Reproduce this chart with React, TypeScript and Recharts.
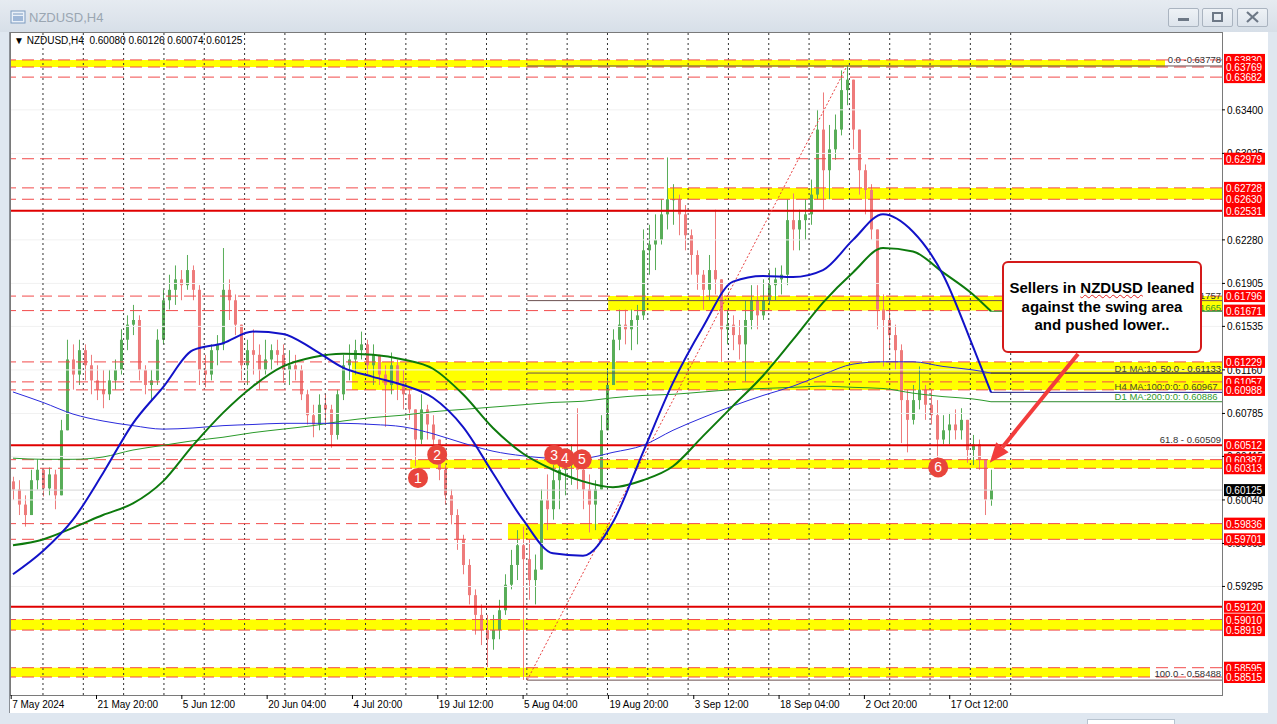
import React from "react";
import {
  ComposedChart,
  Bar,
  Line,
  XAxis,
  YAxis,
  ReferenceLine,
  ReferenceArea,
  ReferenceDot,
} from "recharts";

// ---- candle data (one candle per ~4 H4 bars) ----
const FIRST_OPEN = 0.602;

const highs = [
  0.6024, 0.6021, 0.6008, 0.603, 0.6039, 0.603, 0.6032, 0.603, 0.6073, 0.6142,
  0.6138, 0.6142, 0.6138, 0.6129, 0.612, 0.6116, 0.6116, 0.6125, 0.6151, 0.6163,
  0.6172, 0.6163, 0.612, 0.6116, 0.6151, 0.6185, 0.6198, 0.6206, 0.6202, 0.6215,
  0.6206, 0.6189, 0.6129, 0.6138, 0.6146, 0.6221, 0.6194, 0.6181, 0.6155, 0.6142,
  0.6151, 0.6138, 0.6142, 0.6138, 0.6142, 0.6138, 0.6133, 0.6129, 0.612, 0.6099,
  0.6086, 0.6095, 0.6095, 0.6086, 0.6099, 0.6129, 0.6138,
  0.6142, 0.6149, 0.6142, 0.6138, 0.6129, 0.612, 0.6131, 0.6125, 0.6116, 0.6099,
  0.6082, 0.6095, 0.6086, 0.6077, 0.6052, 0.6034, 0.6013, 0.5996, 0.5974, 0.5953,
  0.5927, 0.5914, 0.5905, 0.5905, 0.5918, 0.594, 0.5961, 0.5978, 0.5981, 0.597,
  0.5957, 0.6013, 0.6026, 0.6034, 0.6043, 0.6047, 0.6052, 0.6083, 0.6043, 0.6026,
  0.6021, 0.6077, 0.6116, 0.6151, 0.6168,
  0.6168, 0.6168, 0.6172, 0.6237, 0.6241, 0.625, 0.6263, 0.6299, 0.6276, 0.6267,
  0.6258, 0.6237, 0.6219, 0.6202, 0.6215, 0.6254, 0.6189, 0.6168, 0.6163, 0.6159,
  0.6176, 0.6189, 0.6189, 0.6194, 0.6202, 0.6204, 0.6206, 0.6263, 0.6268, 0.6254,
  0.6263, 0.628, 0.634, 0.6355, 0.6327, 0.6336, 0.6374, 0.6378, 0.6353, 0.6318,
  0.6293, 0.6276,
  0.6228, 0.6181, 0.6168, 0.6155, 0.6138, 0.6099, 0.6103, 0.6119, 0.6103, 0.6099,
  0.609, 0.6077, 0.6079, 0.6082, 0.6083, 0.6073, 0.606, 0.6056, 0.6039, 0.603,
];

const lows = [
  0.6004, 0.5991, 0.5981, 0.5996, 0.6013, 0.6007, 0.6008, 0.5996, 0.6008, 0.6064,
  0.6099, 0.6103, 0.6107, 0.6095, 0.609, 0.6083, 0.609, 0.6099, 0.6112, 0.6133,
  0.6146, 0.6107, 0.6095, 0.609, 0.6103, 0.6138, 0.6168, 0.6172, 0.6176, 0.6185,
  0.6176, 0.6103, 0.6101, 0.6107, 0.612, 0.6133, 0.6159, 0.6146, 0.6107, 0.6103,
  0.6112, 0.6099, 0.6112, 0.6116, 0.612, 0.6105, 0.6103, 0.6107, 0.609, 0.6069,
  0.6058, 0.6064, 0.6069, 0.6049, 0.6056, 0.609, 0.6107,
  0.6112, 0.6125, 0.6112, 0.6103, 0.6103, 0.6067, 0.6095, 0.609, 0.6082, 0.6073,
  0.6033, 0.6052, 0.6056, 0.6047, 0.6021, 0.6, 0.5983, 0.5961, 0.594, 0.5914,
  0.5888, 0.5879, 0.586, 0.5875, 0.5884, 0.5905, 0.5927, 0.5935, 0.5849, 0.5918,
  0.5914, 0.5944, 0.5978, 0.5987, 0.5996, 0.6008, 0.6017, 0.6013, 0.5996, 0.5976,
  0.5978, 0.6013, 0.6064, 0.6103, 0.6133,
  0.6138, 0.6133, 0.6138, 0.6159, 0.6198, 0.6202, 0.6224, 0.6237, 0.6241, 0.6232,
  0.6219, 0.6198, 0.6185, 0.6168, 0.6176, 0.6181, 0.6123, 0.6138, 0.6133, 0.6125,
  0.6106, 0.6151, 0.6151, 0.6159, 0.6172, 0.6176, 0.6181, 0.6189, 0.6219, 0.6219,
  0.6228, 0.6241, 0.6263, 0.6254, 0.6263, 0.6297, 0.6318, 0.6344, 0.6306, 0.6267,
  0.625, 0.6228,
  0.6151, 0.6119, 0.6133, 0.6116, 0.6053, 0.6045, 0.6069, 0.6082, 0.6073, 0.6069,
  0.6039, 0.6052, 0.6052, 0.6056, 0.6056, 0.6036, 0.6034, 0.603, 0.5991, 0.5999,
];

const closes = [
  0.6013, 0.6, 0.5991, 0.6021, 0.603, 0.6014, 0.6026, 0.6008, 0.6064, 0.6125,
  0.6112, 0.6133, 0.612, 0.6107, 0.6099, 0.6095, 0.6107, 0.6116, 0.6142, 0.6155,
  0.6159, 0.6116, 0.6103, 0.6107, 0.6142, 0.6176, 0.6185, 0.6194, 0.6189, 0.6202,
  0.6185, 0.6116, 0.6112, 0.6133, 0.6138, 0.6185, 0.6176, 0.6155, 0.612, 0.6133,
  0.6129, 0.6116, 0.6125, 0.6133, 0.6129, 0.6116, 0.612, 0.6116, 0.6095, 0.6077,
  0.6069, 0.6086, 0.6082, 0.606, 0.6095, 0.612, 0.6125,
  0.6133, 0.6138, 0.612, 0.6129, 0.6112, 0.6103, 0.612, 0.6103, 0.6095, 0.6082,
  0.6056, 0.6082, 0.6069, 0.6056, 0.603, 0.6008, 0.5991, 0.597, 0.5948, 0.5922,
  0.5905, 0.5892, 0.5884, 0.5892, 0.5909, 0.5931, 0.5948, 0.5965, 0.5953, 0.5935,
  0.5944, 0.6004, 0.5996, 0.6021, 0.603, 0.6034, 0.6039, 0.603, 0.6013, 0.6,
  0.6013, 0.6064, 0.6103, 0.6142, 0.6155,
  0.6151, 0.6159, 0.6163, 0.6219, 0.6224, 0.6228, 0.625, 0.6263, 0.6263, 0.625,
  0.6232, 0.6215, 0.6198, 0.6185, 0.6202, 0.6194, 0.6151, 0.6155, 0.6146, 0.6138,
  0.6159, 0.6176, 0.6163, 0.6176, 0.6189, 0.6194, 0.6198, 0.6245, 0.6237, 0.6245,
  0.625, 0.6267, 0.6323, 0.6288, 0.6306, 0.6323, 0.6357, 0.6366, 0.6323, 0.6288,
  0.6271, 0.6237,
  0.6168, 0.6159, 0.6146, 0.6133, 0.609, 0.6073, 0.609, 0.6099, 0.6086, 0.6077,
  0.6056, 0.6064, 0.6069, 0.6064, 0.6073, 0.6047, 0.6052, 0.6039, 0.6004, 0.60125,
];

// ---- moving averages, sampled every 5 candles (last = final candle) ----
const maH4_100 = [
  0.594, 0.596, 0.5987, 0.6027, 0.607, 0.6101, 0.6133, 0.6139, 0.6149, 0.6147,
  0.6134, 0.6118, 0.611, 0.6103, 0.6092, 0.6067, 0.6027, 0.5987, 0.5958, 0.5956,
  0.5985, 0.6045, 0.6105, 0.6153, 0.6192, 0.6197, 0.6196, 0.6202, 0.6228, 0.625,
  0.6235, 0.6198, 0.6136, 0.60967,
];
const maD1_100 = [
  0.6097, 0.6088, 0.6078, 0.6072, 0.6068, 0.6065, 0.6066, 0.6068, 0.6069, 0.607,
  0.607, 0.607, 0.6069, 0.6067, 0.6061, 0.6053, 0.6046, 0.6042, 0.604, 0.604,
  0.6045, 0.6051, 0.6064, 0.6075, 0.6085, 0.6094, 0.6102, 0.6112, 0.6121, 0.6123,
  0.6123, 0.6119, 0.6116, 0.61133,
];
const maH4_200 = [
  0.5965, 0.597, 0.598, 0.5991, 0.6001, 0.602, 0.6051, 0.6079, 0.6102, 0.6119,
  0.6127, 0.613, 0.6129, 0.6125, 0.6117, 0.6095, 0.6066, 0.6044, 0.603, 0.602,
  0.6015, 0.6021, 0.6033, 0.6059, 0.6085, 0.6111, 0.6142, 0.6174, 0.62, 0.6221,
  0.6218, 0.62, 0.6181, 0.61665,
];
const maD1_200 = [
  0.604, 0.6039, 0.6039, 0.6041, 0.6047, 0.6051, 0.6055, 0.6058, 0.6062, 0.6065,
  0.6068, 0.6072, 0.6075, 0.6077, 0.608, 0.6082, 0.6084, 0.6086, 0.6088, 0.6089,
  0.6092, 0.6094, 0.6095, 0.6097, 0.6099, 0.61, 0.6101, 0.6102, 0.6101, 0.61,
  0.6096, 0.6093, 0.6091, 0.60886,
];

// ---- levels ----
const dashedLevels = [
  0.6383, 0.63769, 0.63682, 0.62979, 0.62728, 0.6263, 0.61796, 0.61671, 0.61229,
  0.61057, 0.60988, 0.60387, 0.60313, 0.59836, 0.59701, 0.5901, 0.58919, 0.58595,
  0.58515,
];
const solidLevels = [0.62531, 0.60512, 0.5912];
const redLabels = [
  0.6383, 0.63769, 0.63682, 0.62979, 0.62728, 0.6263, 0.62531, 0.61796, 0.61671,
  0.61229, 0.61057, 0.60988, 0.60512, 0.60387, 0.60313, 0.59836, 0.59701, 0.5912,
  0.5901, 0.58919, 0.58595, 0.58515,
];
const axisPrices = [
  0.634, 0.63025, 0.6228, 0.61905, 0.61535, 0.6116, 0.60785, 0.60415, 0.6004,
  0.59665, 0.59295,
];
const lastPrice = 0.60125;

// yellow zones: [low, high, from candle, to candle]
const zones = [
  { lo: 0.63769, hi: 0.6383, from: -0.33, to: 192 },
  { lo: 0.6263, hi: 0.62728, from: 109, to: 201.5 },
  { lo: 0.61671, hi: 0.61796, from: 99.2, to: 201.5 },
  { lo: 0.60988, hi: 0.61229, from: 56.5, to: 201.5 },
  { lo: 0.60313, hi: 0.60387, from: 66.2, to: 201.5 },
  { lo: 0.59701, hi: 0.59836, from: 82.5, to: 201.5 },
  { lo: 0.58919, hi: 0.5901, from: -0.33, to: 201.5 },
  { lo: 0.58515, hi: 0.58595, from: -0.33, to: 189.5 },
];

const fibLow = 0.58488;
const fibHigh = 0.63778;
const fibLevels = [0.63778, 0.6253, 0.61757, 0.61133, 0.60509, 0.58488];

const markers = [
  { n: "1", i: 67.5, p: 0.6023 },
  { n: "2", i: 70.7, p: 0.6043 },
  { n: "3", i: 90.2, p: 0.6043 },
  { n: "4", i: 92, p: 0.604 },
  { n: "5", i: 94.8, p: 0.6039 },
  { n: "6", i: 154.2, p: 0.6032 },
];

const dateLabels = [
  "7 May 2024", "21 May 20:00", "5 Jun 12:00", "20 Jun 04:00", "4 Jul 20:00",
  "19 Jul 12:00", "5 Aug 04:00", "19 Aug 20:00", "3 Sep 12:00", "18 Sep 04:00",
  "2 Oct 20:00", "17 Oct 12:00",
];

const X_MIN = -0.33;
const X_MAX = 201.5;
const Y_MIN = 0.5836;
const Y_MAX = 0.64062;
const LAST = closes.length - 1;

const candles = closes.map((c, i) => {
  const open = i === 0 ? FIRST_OPEN : closes[i - 1];
  return {
    i,
    open,
    close: c,
    high: Math.max(highs[i], open, c),
    low: Math.min(lows[i], open, c),
  };
});

const toSeries = (arr: number[]) =>
  arr.map((v, k) => ({ i: k === arr.length - 1 ? LAST : k * 5, v }));

const dateTicks = dateLabels.map((_, k) => -0.3 + k * 14.22);
const weekSeps = Array.from({ length: 25 }, (_, k) => 5 + k * 6.72);

const UP = "#58ad58";
const DOWN = "#ee7b7b";
const RED = "#ff0000";
const FONT = "'Liberation Sans', Arial, sans-serif";

const Candle = (props: any) => {
  const { x, y, width, height, payload } = props;
  if (!payload) return null;
  const { open, close, high, low } = payload;
  const h = Math.abs(height);
  const top = height >= 0 ? y : y + height;
  const k = h / (high - low || 1);
  const yO = top + (high - open) * k;
  const yC = top + (high - close) * k;
  const color = close >= open ? UP : DOWN;
  const cx = x + width / 2;
  return (
    <g>
      <line x1={cx} x2={cx} y1={top} y2={top + h} stroke={color} strokeWidth={1} />
      <rect
        x={x}
        y={Math.min(yO, yC)}
        width={width}
        height={Math.max(1, Math.abs(yO - yC))}
        fill={color}
      />
    </g>
  );
};

const DateTick = (props: any) => {
  const { x, y, index } = props;
  return (
    <g>
      <line x1={x} x2={x} y1={y} y2={y + 4} stroke="#000" />
      <text x={x + 1} y={y + 13} fontSize={10} fill="#000" fontFamily={FONT}>
        {dateLabels[index]}
      </text>
    </g>
  );
};

const PriceTick = (props: any) => {
  const { x, y, payload } = props;
  const v = payload.value as number;
  const txt = v.toFixed(5);
  if (v === lastPrice) {
    return (
      <g>
        <rect x={x + 2} y={y - 6} width={41} height={12} fill="#000" />
        <text x={x + 4} y={y + 4} fontSize={10} fill="#fff" fontFamily={FONT}>{txt}</text>
      </g>
    );
  }
  if (redLabels.includes(v)) {
    return (
      <g>
        <rect x={x + 2} y={y - 6} width={41} height={12} fill={RED} />
        <text x={x + 4} y={y + 4} fontSize={10} fill="#fff" fontFamily={FONT}>{txt}</text>
      </g>
    );
  }
  return (
    <g>
      <line x1={x} x2={x + 3} y1={y} y2={y} stroke="#000" />
      <text x={x + 5} y={y + 4} fontSize={10} fill="#000" fontFamily={FONT}>{txt}</text>
    </g>
  );
};

const textMark =
  (text: string, color: string, anchor: "start" | "end", dy: number) =>
  (p: any) => (
    <text
      x={anchor === "end" ? p.cx - 1 : p.cx}
      y={p.cy + dy}
      fontSize={9.5}
      fill={color}
      textAnchor={anchor}
      fontFamily={FONT}
    >
      {text}
    </text>
  );

const Arrow = (p: any) => {
  const { x1, y1, x2, y2 } = p;
  const ang = Math.atan2(y2 - y1, x2 - x1);
  const len = 20;
  const half = 8;
  const bx = x2 - len * Math.cos(ang);
  const by = y2 - len * Math.sin(ang);
  const nx = -Math.sin(ang);
  const ny = Math.cos(ang);
  return (
    <g>
      <line x1={x1} y1={y1} x2={bx} y2={by} stroke="#f23c3c" strokeWidth={4} />
      <polygon
        points={`${x2},${y2} ${bx + nx * half},${by + ny * half} ${bx - nx * half},${by - ny * half}`}
        fill="#f23c3c"
      />
    </g>
  );
};

const WinButton = ({ left, kind }: { left: number; kind: string }) => (
  <div
    style={{
      position: "absolute",
      left,
      top: 8,
      width: 31,
      height: 19,
      border: "1px solid #aab4c0",
      borderRadius: 2,
      background: "linear-gradient(#eef2f6, #dde4ec)",
      boxSizing: "border-box",
    }}
  >
    <svg width={29} height={17}>
      {kind === "min" && <rect x={9} y={9} width={11} height={3} fill="#6d7886" />}
      {kind === "max" && (
        <rect x={10} y={4} width={9} height={8} fill="none" stroke="#6d7886" strokeWidth={2} />
      )}
      {kind === "close" && (
        <g stroke="#6d7886" strokeWidth={2.2}>
          <line x1={9} y1={3} x2={20} y2={13} />
          <line x1={20} y1={3} x2={9} y2={13} />
        </g>
      )}
    </svg>
  </div>
);

export default function App() {
  return (
    <div
      style={{
        position: "relative",
        width: 1277,
        height: 724,
        overflow: "hidden",
        background: "#dfe7f0",
        fontFamily: FONT,
      }}
    >
      <style>{`body{margin:0}`}</style>
      {/* title bar */}
      <div
        style={{
          position: "absolute",
          left: 0,
          top: 0,
          width: 1277,
          height: 32,
          background: "linear-gradient(#e6ebf1, #d7dfe8)",
        }}
      />
      <svg style={{ position: "absolute", left: 10, top: 10 }} width={16} height={16}>
        <rect x={1} y={1} width={14} height={12} fill="#e9f0f8" stroke="#7c9bc0" />
        <rect x={3} y={6} width={10} height={5} fill="#9fb8d8" />
        <line x1={3} y1={4} x2={13} y2={4} stroke="#7c9bc0" />
      </svg>
      <div
        style={{
          position: "absolute",
          left: 29,
          top: 10,
          fontSize: 13,
          color: "#9aa6b2",
        }}
      >
        NZDUSD,H4
      </div>
      <WinButton left={1168} kind="min" />
      <WinButton left={1202} kind="max" />
      <WinButton left={1237} kind="close" />

      {/* white chart panel and plot frame */}
      <div
        style={{
          position: "absolute",
          left: 9,
          top: 32,
          width: 1259,
          height: 681,
          background: "#fff",
          borderLeft: "1px solid #8a8f96",
          boxSizing: "border-box",
        }}
      />
      <div
        style={{
          position: "absolute",
          left: 10,
          top: 32,
          width: 1213,
          height: 664,
          border: "1px solid #7a7a7a",
          boxSizing: "border-box",
        }}
      />
      <div
        style={{
          position: "absolute",
          left: 1087,
          top: 719,
          width: 86,
          height: 6,
          background: "#fff",
          border: "1px solid #b8c4d0",
        }}
      />

      <div style={{ position: "absolute", left: 0, top: 0 }}>
        <ComposedChart
          width={1277}
          height={724}
          data={candles}
          margin={{ top: 33, right: 10, bottom: 12, left: 11 }}
        >
          <XAxis
            type="number"
            dataKey="i"
            domain={[X_MIN, X_MAX]}
            ticks={dateTicks}
            interval={0}
            tick={DateTick}
            tickSize={0}
            tickMargin={0}
            axisLine={false}
            tickLine={false}
            height={17}
            allowDataOverflow
          />
          <YAxis
            type="number"
            orientation="right"
            domain={[Y_MIN, Y_MAX]}
            ticks={[...axisPrices, ...redLabels, lastPrice]}
            interval={0}
            tick={PriceTick}
            tickSize={0}
            tickMargin={0}
            axisLine={false}
            tickLine={false}
            width={45}
            allowDataOverflow
          />

          {axisPrices.map((v) => (
            <ReferenceLine key={`g${v}`} y={v} stroke="#f1f1f1" />
          ))}
          {zones.map((z) => (
            <ReferenceArea
              key={`z${z.lo}`}
              x1={z.from}
              x2={z.to}
              y1={z.lo}
              y2={z.hi}
              fill="#ffff00"
              fillOpacity={1}
              stroke="none"
              ifOverflow="hidden"
            />
          ))}
          {weekSeps.map((v) => (
            <ReferenceLine key={`w${v}`} x={v} stroke="#333" strokeDasharray="2 3" />
          ))}
          <ReferenceLine y={lastPrice} stroke="#d6d6d6" />
          {dashedLevels.map((v) => (
            <ReferenceLine key={`d${v}`} y={v} stroke="#f24a4a" strokeDasharray="12 6" />
          ))}
          {fibLevels.map((v) => (
            <ReferenceLine
              key={`f${v}`}
              segment={[
                { x: 85.7, y: v },
                { x: X_MAX, y: v },
              ]}
              stroke="#6b5050"
            />
          ))}
          {solidLevels.map((v) => (
            <ReferenceLine key={`s${v}`} y={v} stroke="#e00000" strokeWidth={2} />
          ))}
          <ReferenceLine
            segment={[
              { x: 85.7, y: fibLow },
              { x: 139, y: fibHigh },
            ]}
            stroke="#e84040"
            strokeDasharray="2 2"
          />
          {/* MA extensions to the right edge */}
          <ReferenceLine segment={[{ x: LAST, y: 0.60967 }, { x: X_MAX, y: 0.60967 }]} stroke="#1a1a8a" />
          <ReferenceLine segment={[{ x: LAST, y: 0.61133 }, { x: X_MAX, y: 0.61133 }]} stroke="#26264a" />
          <ReferenceLine segment={[{ x: LAST, y: 0.60886 }, { x: X_MAX, y: 0.60886 }]} stroke="#2e8b2e" />
          <ReferenceLine segment={[{ x: LAST, y: 0.61665 }, { x: X_MAX, y: 0.61665 }]} stroke="#2e8b2e" />

          <Bar
            dataKey={(d: any) => [d.low, d.high]}
            barSize={3}
            shape={Candle}
            isAnimationActive={false}
          />

          <Line data={toSeries(maD1_200)} dataKey="v" type="monotone" stroke="#2a9a2a" strokeWidth={1} dot={false} isAnimationActive={false} />
          <Line data={toSeries(maD1_100)} dataKey="v" type="monotone" stroke="#2b2bdc" strokeWidth={1} dot={false} isAnimationActive={false} />
          <Line data={toSeries(maH4_200)} dataKey="v" type="monotone" stroke="#0d7a0d" strokeWidth={2} dot={false} isAnimationActive={false} />
          <Line data={toSeries(maH4_100)} dataKey="v" type="monotone" stroke="#1212c8" strokeWidth={2} dot={false} isAnimationActive={false} />

          {/* level texts */}
          <ReferenceDot x={X_MAX} y={0.63778} r={0} shape={textMark("0.0 -0.63778", "#333", "end", -3)} />
          <ReferenceDot x={X_MAX} y={0.61757} r={0} shape={textMark("38.2 - 0.61757", "#333", "end", -2)} />
          <ReferenceDot x={X_MAX} y={0.61665} r={0} shape={textMark("H4 MA:200:0:0: 0.61665", "#2e9a2e", "end", 0)} />
          <ReferenceDot x={183.6} y={0.61133} r={0} shape={textMark("D1 MA:10", "#4d4d2a", "start", -1)} />
          <ReferenceDot x={X_MAX} y={0.61133} r={0} shape={textMark("50.0 - 0.61133", "#333", "end", -1)} />
          <ReferenceDot x={183.6} y={0.60967} r={0} shape={textMark("H4 MA:100:0:0: 0.60967", "#4d4d2a", "start", -2)} />
          <ReferenceDot x={183.6} y={0.60886} r={0} shape={textMark("D1 MA:200:0:0: 0.60886", "#2e9a2e", "start", -2)} />
          <ReferenceDot x={X_MAX} y={0.60509} r={0} shape={textMark("61.8 - 0.60509", "#333", "end", -3)} />
          <ReferenceDot x={X_MAX} y={0.58488} r={0} shape={textMark("100.0 - 0.58488", "#333", "end", -3)} />

          {markers.map((m) => (
            <ReferenceDot
              key={m.n}
              x={m.i}
              y={m.p}
              r={10}
              fill="#e8453c"
              stroke="none"
              label={{ value: m.n, position: "center", fill: "#fff", fontSize: 14, fontFamily: FONT }}
            />
          ))}

          <ReferenceLine
            segment={[
              { x: 177.5, y: 0.61298 },
              { x: 162.8, y: 0.6036 },
            ]}
            shape={Arrow}
          />
        </ComposedChart>
      </div>

      {/* symbol header */}
      <div
        style={{
          position: "absolute",
          left: 14,
          top: 35,
          fontSize: 10,
          color: "#000",
          whiteSpace: "pre",
        }}
      >
        {"\u25BC NZDUSD,H4  0.60080 0.60126 0.60074 0.60125"}
      </div>

      {/* annotation box */}
      <div
        style={{
          position: "absolute",
          left: 1002,
          top: 261,
          width: 200,
          height: 92,
          background: "#fff",
          border: "2px solid #d41a1a",
          borderRadius: 6,
          boxSizing: "border-box",
          display: "flex",
          alignItems: "center",
          justifyContent: "center",
          textAlign: "center",
          fontWeight: "bold",
          fontSize: 15,
          lineHeight: "18.5px",
          color: "#000",
        }}
      >
        <div>
          Sellers in{" "}
          <span
            style={{
              textDecorationLine: "underline",
              textDecorationStyle: "wavy",
              textDecorationColor: "#e02020",
              textDecorationThickness: 1,
            }}
          >
            NZDUSD
          </span>{" "}
          leaned
          <br />
          against the swing area
          <br />
          and pushed lower..
        </div>
      </div>

      {/* right window frame */}
      <div style={{ position: "absolute", left: 1268, top: 32, width: 9, height: 692, background: "#dfe7f0" }} />
    </div>
  );
}
